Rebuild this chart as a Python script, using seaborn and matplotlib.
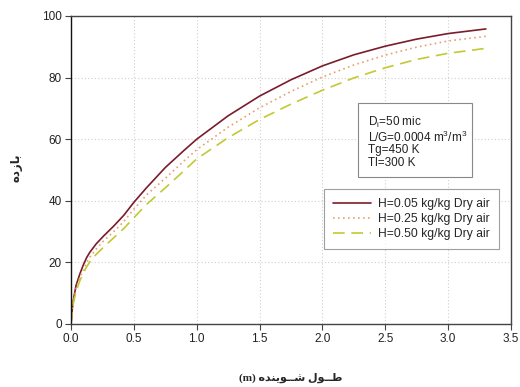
import numpy as np
import pandas as pd
import matplotlib
matplotlib.use("Agg")
import matplotlib.pyplot as plt
from matplotlib.patches import Rectangle
import seaborn as sns

# Scrubber length (m) and efficiency (%) for three inlet humidities
length_m = [0, 0.01, 0.02, 0.04, 0.07, 0.1, 0.125, 0.15, 0.2, 0.26, 0.34, 0.42, 0.5,
            0.6, 0.75, 0.9, 1.0, 1.25, 1.5, 1.75, 2.0, 2.25, 2.5, 2.75, 3.0, 3.3]
eff_h005 = [0, 5, 8, 12.5, 16.2, 19.4, 21.6, 23.3, 26, 28.6, 31.8, 35.3, 39.5,
            44.2, 50.8, 56.4, 60, 67.6, 74, 79.3, 83.8, 87.4, 90.2, 92.5, 94.3, 95.8]
eff_h025 = [0, 4.5, 7.5, 11.5, 15, 17.9, 20, 21.7, 24.3, 27, 30, 33.3, 37.3,
            41.9, 47.3, 53, 56.6, 63.9, 70.2, 75.5, 80.2, 84.1, 87.3, 89.9, 91.9, 93.4]
eff_h050 = [0, 4, 7, 10.5, 14, 16.7, 18.6, 20.2, 22.6, 25, 28, 31, 34.5,
            38.8, 44.2, 49.8, 53.6, 60.5, 66.4, 71.4, 75.9, 79.9, 83.2, 85.9, 87.9, 89.5]

series_labels = ["H=0.05 kg/kg Dry air", "H=0.25 kg/kg Dry air", "H=0.50 kg/kg Dry air"]
series_values = [eff_h005, eff_h025, eff_h050]
series_colors = ["#7a1c2a", "#e8a070", "#c4c832"]
series_styles = ["-", (0, (1, 2)), (0, (7, 4))]

x_ticks = [0.0, 0.5, 1.0, 1.5, 2.0, 2.5, 3.0, 3.5]
y_ticks = [0, 20, 40, 60, 80, 100]

# Operating conditions shown in the note box
note_lines = ["D$_\\mathregular{i}$=50 mic",
              "L/G=0.0004 m$^\\mathregular{3}$/m$^\\mathregular{3}$",
              "Tg=450 K",
              "Tl=300 K"]

# Persian axis titles written in shaped presentation forms (visual order)
y_title = "\uFEE9\uFEA9\uFEAF\uFE8E\uFE91"  # بازده
x_title = "(m) \uFEE9\uFEAA\uFEE8\uFBFE\uFEEE\u0640\u0640\uFEB7 \uFEDD\uFEEE\u0640\u0640\uFEC3"  # طول شوینده (m)

sns.set_theme(style="white")
plt.rcParams["font.family"] = ["Liberation Sans", "DejaVu Sans"]
plt.rcParams["mathtext.fontset"] = "custom"
plt.rcParams["mathtext.rm"] = "Liberation Sans"

fig = plt.figure(figsize=(5.2, 3.87), dpi=100)
ax = fig.add_axes([71 / 520, 1 - 324 / 387, 440 / 520, 308 / 387])

for lab, vals, col, ls in zip(series_labels, series_values, series_colors, series_styles):
    df = pd.DataFrame({"x": length_m, "y": vals})
    sns.lineplot(data=df, x="x", y="y", ax=ax, color=col, linestyle=ls,
                 linewidth=1.2, label=lab)

ax.set_xlim(0, 3.5)
ax.set_ylim(0, 100)
ax.set_xticks(x_ticks)
ax.set_xticklabels([f"{t:.1f}" for t in x_ticks])
ax.set_yticks(y_ticks)
ax.set_yticklabels([str(t) for t in y_ticks])
ax.tick_params(axis="both", which="major", direction="out", length=4, width=0.8,
               color="#444444", labelsize=8.5, labelcolor="#222222", pad=2.5,
               bottom=True, left=True)
ax.grid(True, linestyle=(0, (1, 2)), color="#cfcfcf", linewidth=0.8)
for side in ["left", "bottom", "top", "right"]:
    ax.spines[side].set_visible(True)
    ax.spines[side].set_color("#444444")
    ax.spines[side].set_linewidth(1.0)
ax.spines["left"].set_color("#111111")

ax.set_xlabel("")
ax.set_ylabel("")
fig.text(291 / 520, 1 - 378 / 387, x_title, ha="center", va="center",
         fontsize=8, fontweight="bold", family=["Liberation Serif", "DejaVu Sans"])
fig.text(16 / 520, 1 - 168 / 387, y_title, ha="center", va="center",
         rotation=90, fontsize=8.5, fontweight="bold", family=["DejaVu Sans"])

leg = ax.legend(loc="upper left", bbox_to_anchor=(0.575, 0.437), fontsize=8.7,
                frameon=True, fancybox=False, edgecolor="#888888",
                handlelength=3.1, handletextpad=0.65, labelspacing=0.22,
                borderpad=0.75, borderaxespad=0)
leg.get_frame().set_linewidth(0.8)

# Note box with the operating conditions
ax.add_patch(Rectangle((0.6516, 0.4763), 0.2591, 0.2403, transform=ax.transAxes,
                       facecolor="white", edgecolor="#888888", linewidth=0.8, zorder=4))
for line, yf in zip(note_lines, [0.6542, 0.6055, 0.5649, 0.5227]):
    ax.text(0.675, yf, line, transform=ax.transAxes, ha="left", va="center",
            fontsize=8.5, color="#222222", zorder=5)

fig.savefig("out.png", dpi=100, facecolor="white")
